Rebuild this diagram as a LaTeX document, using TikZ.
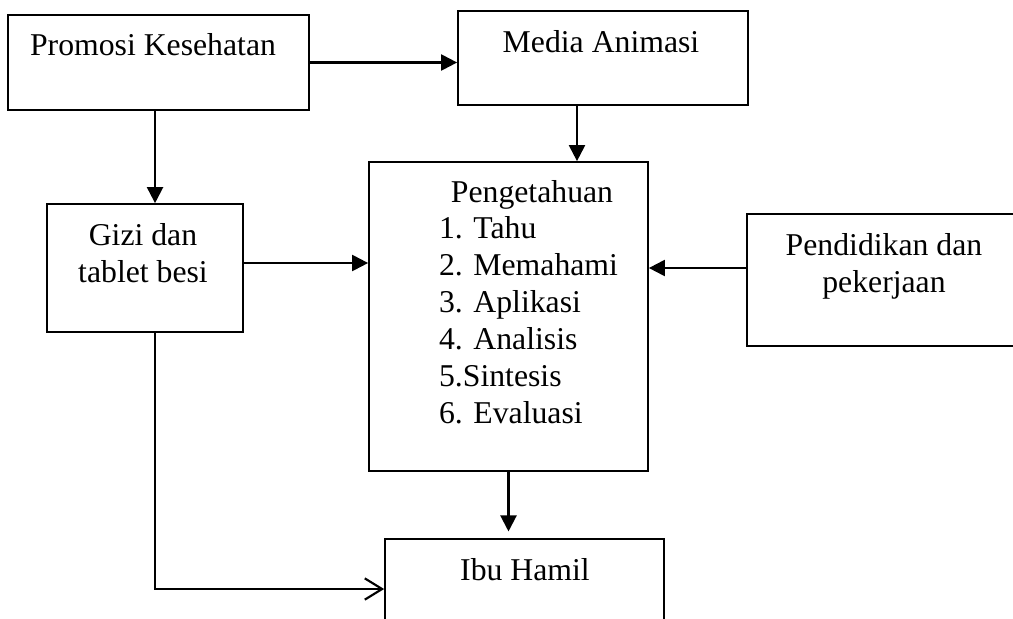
\documentclass[tikz,border=0pt]{standalone}
\usepackage{fontspec}
\setmainfont{Liberation Serif}
\usetikzlibrary{arrows.meta, positioning}

\begin{document}
\begin{tikzpicture}[x=0.75pt,y=-0.75pt,line width=1.6pt,
  box/.style={rectangle,draw,line width=1.3pt,inner sep=0pt},
  txt/.style={inner sep=0pt,align=center,font=\fontsize{23.8pt}{27.7pt}\selectfont},
  arr/.style={-{Triangle[length=12pt,width=12pt]}},
  barb/.style={-{Straight Barb[length=13pt,width=16pt]}}]
  \useasboundingbox (0,0) rectangle (1013,618);
  % boxes
  \node[box,minimum width=225.75pt,minimum height=71.25pt] (promosi) at (158.5,62.5) {};
  \node[box,minimum width=217.5pt,minimum height=70.5pt] (media) at (603,58) {};
  \node[box,minimum width=147pt,minimum height=96pt] (gizi) at (145,268) {};
  \node[box,minimum width=209.25pt,minimum height=231.75pt] (peng) at (508.5,316.5) {};
  \node[box,minimum width=205.5pt,minimum height=99pt] (pend) at (884,280) {};
  \node[box,minimum width=209.25pt,minimum height=75pt] (ibu) at (524.5,589) {};
  % texts (base = last line)
  \node[txt,anchor=base] (promosiTxt) at (153,55) {Promosi Kesehatan};
  \node[txt,anchor=base] (mediaTxt) at (601,52) {Media Animasi};
  \node[txt,anchor=base] (giziTxt) at (143,282) {Gizi dan\\tablet besi};
  \node[txt,anchor=base] (pengTitle) at (532,202) {Pengetahuan};
  \node[txt,align=left,anchor=base west] (pengItems) at (438,423)
    {1. Tahu\\2. Memahami\\3. Aplikasi\\4. Analisis\\5.Sintesis\\6. Evaluasi};
  \node[txt,anchor=base] (pendTxt) at (884,292) {Pendidikan dan\\pekerjaan};
  \node[txt,anchor=base] (ibuTxt) at (525,580) {Ibu Hamil};
  % arrows
  \draw[arr] (promosi.east) -- (promosi.east -| media.west);
  \draw[arr] ([xshift=-2.6pt]promosi.south) -- ([xshift=-2.6pt]promosi.south |- gizi.north);
  \draw[arr] ([xshift=-19.5pt]media.south) -- ([xshift=-19.5pt]media.south |- peng.north);
  \draw[arr] ([yshift=3.75pt]gizi.east) -- ([yshift=3.75pt]gizi.east -| peng.west);
  \draw[arr] ([yshift=9pt]pend.west) -- ([yshift=9pt]pend.west -| peng.east);
  \draw[arr] (peng.south) -- ([yshift=5pt]peng.south |- ibu.north);
  \draw[barb] ([xshift=7.5pt]gizi.south) |- (ibu.west);
\end{tikzpicture}
\end{document}
